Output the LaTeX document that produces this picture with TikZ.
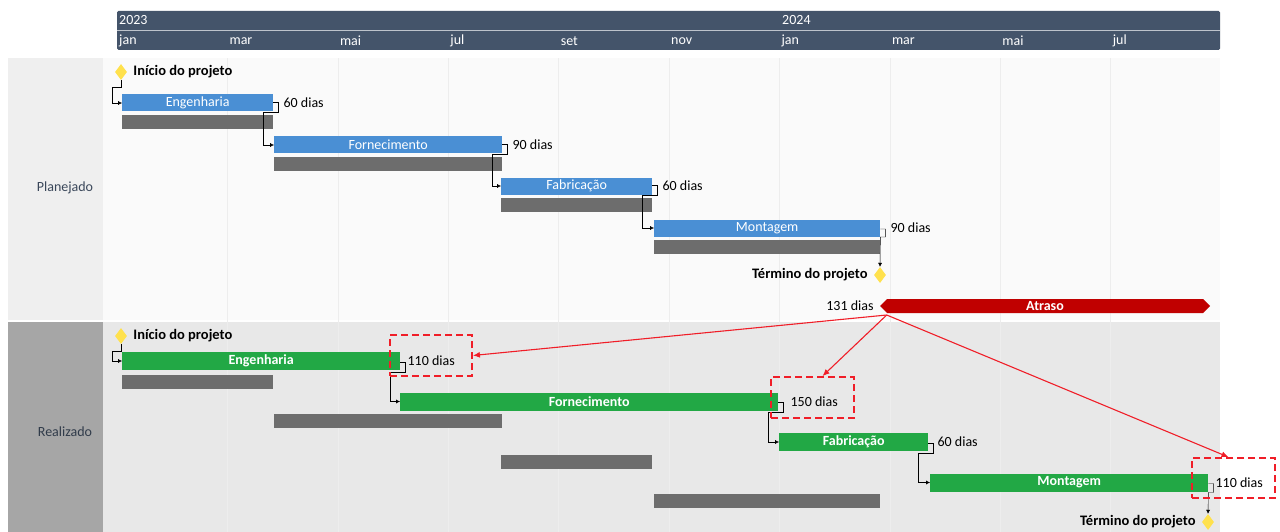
\documentclass[tikz,border=0pt]{standalone}
\usepackage{fontspec}
\setmainfont{Carlito}
\usetikzlibrary{arrows.meta,positioning,shapes.geometric,shapes.arrows}
\definecolor{Slate}{HTML}{44546A}
\definecolor{PlanBlue}{HTML}{4A8FD4}
\definecolor{RealGreen}{HTML}{22A845}
\definecolor{BaseGray}{HTML}{6D6D6D}
\definecolor{DelayRed}{HTML}{C00000}
\definecolor{Flag}{HTML}{F01E28}
\definecolor{Gold}{HTML}{FFE14D}
\definecolor{PlanBg}{HTML}{FAFAFA}
\definecolor{PlanSide}{HTML}{EFEFEF}
\definecolor{RealBg}{HTML}{E8E8E8}
\definecolor{RealSide}{HTML}{A6A6A6}

\begin{document}
\begin{tikzpicture}[x=1pt,y=-1pt,>=Latex,font=\fontsize{14}{16}\selectfont,
    bar/.style={inner sep=0pt,anchor=west,minimum height=17pt,text=white},
    plan/.style={bar,fill=PlanBlue},
    real/.style={bar,fill=RealGreen,minimum height=18pt,font=\fontsize{14}{16}\selectfont\bfseries},
    base/.style={inner sep=0pt,anchor=west,minimum height=14pt,fill=BaseGray},
    dur/.style={inner sep=0pt},
    milestone/.style={diamond,fill=Gold,inner sep=0pt,minimum width=12pt,minimum height=16pt},
    mslabel/.style={inner sep=0pt,font=\fontsize{14.5}{16}\selectfont\bfseries},
    link/.style={-{Latex[length=4pt,width=4pt]},thin,black},
    flagbox/.style={draw=Flag,line width=1.8pt,dash pattern=on 7pt off 4pt,inner sep=0pt},
    hint/.style={-{Latex[length=7pt,width=6pt]},Flag,line width=1.1pt}]
    \useasboundingbox (0,0) rectangle (1280,532);

    \fill[PlanSide] (8,58) rectangle (103,320);
    \fill[PlanBg] (103,58) rectangle (1220,320);
    \fill[RealSide] (8,322) rectangle (103,532);
    \fill[RealBg] (103,322) rectangle (1220,532);
    \foreach \i in {1,...,9}
      \draw[black!7] (117+110.4*\i,58) -- (117+110.4*\i,532);
    \node[text=Slate!85!black] (planlbl) at (65,188) {Planejado};
    \node[text=Slate!70!black] (reallbl) at (65,432) {Realizado};

    \fill[Slate,rounded corners=1.5pt] (117,11) rectangle (1220,50);
    \draw[white!65!Slate] (117,30.5) -- (1220,30.5);
    \node[anchor=west,inner sep=0pt,text=white] (y2023) at (119,20) {2023};
    \node[anchor=west,inner sep=0pt,text=white] (y2024) at (782,20) {2024};
    \foreach \m [count=\i from 0] in {jan,mar,mai,jul,set,nov,jan,mar,mai,jul}
      \node[anchor=west,inner sep=0pt,text=white] (m\i) at (119+110.4*\i,41) {\m};

    \node[milestone] (ps) at (121,72) {};
    \node[mslabel,right=6pt of ps] (pslbl) {Início do projeto};
    \node[plan,minimum width=151pt] (p1) at (122,103) {Engenharia};
    \node[base,minimum width=151pt,below=3pt of p1] (pb1) {};
    \node[dur,right=10pt of p1] (pd1) {60 dias};
    \node[plan,minimum width=228pt] (p2) at (274,145) {Fornecimento};
    \node[base,minimum width=228pt,below=3pt of p2] (pb2) {};
    \node[dur,right=10pt of p2] (pd2) {90 dias};
    \node[plan,minimum width=151pt] (p3) at (501,186) {Fabricação};
    \node[base,minimum width=151pt,below=3pt of p3] (pb3) {};
    \node[dur,right=10pt of p3] (pd3) {60 dias};
    \node[plan,minimum width=226pt] (p4) at (654,228) {Montagem};
    \node[base,minimum width=226pt,below=3pt of p4] (pb4) {};
    \node[dur,right=10pt of p4] (pd4) {90 dias};
    \node[milestone] (pe) at (880,275) {};
    \node[mslabel,left=6pt of pe] (pelbl) {Término do projeto};

    \draw[link] (ps.south) -- ++(0,7) -- ++(-9,0) |- (p1.west);
    \draw[link] ([yshift=1pt]p1.east) -- ++(5,0) -- ++(0,10) -- ++(-15,0) |- (p2.west);
    \draw[link] ([yshift=1pt]p2.east) -- ++(5,0) -- ++(0,10) -- ++(-15,0) |- (p3.west);
    \draw[link] ([yshift=1pt]p3.east) -- ++(5,0) -- ++(0,10) -- ++(-15,0) |- (p4.west);
    \draw[link] ([yshift=-1pt]p4.east) -- ++(5,0) -- ++(0,8) -- ++(-5,0) -- (pe.north);

    \node[shape=double arrow,double arrow head extend=0pt,fill=DelayRed,text=white,inner sep=0pt,
      minimum height=330pt,minimum width=14pt,font=\fontsize{14}{16}\selectfont\bfseries] (atraso) at (1045,306) {Atraso};
    \node[dur,left=6pt of atraso] (delaylbl) {131 dias};
    \coordinate (src) at ([xshift=7pt,yshift=-9pt]atraso.west);

    \node[milestone] (rs) at (121,336) {};
    \node[mslabel,right=6pt of rs] (rslbl) {Início do projeto};
    \node[real,minimum width=278pt] (r1) at (122,361) {Engenharia};
    \node[base,minimum width=151pt] (rb1) at (122,381.5) {};
    \node[dur,right=7pt of r1] (rd1) {110 dias};
    \node[real,minimum width=378pt] (r2) at (400,401.5) {Fornecimento};
    \node[base,minimum width=228pt] (rb2) at (274,421) {};
    \node[dur,right=12pt of r2] (rd2) {150 dias};
    \node[real,minimum width=149pt] (r3) at (779,442) {Fabricação};
    \node[base,minimum width=151pt] (rb3) at (501,461.5) {};
    \node[dur,right=9pt of r3] (rd3) {60 dias};
    \node[real,minimum width=278pt] (r4) at (930,482.5) {Montagem};
    \node[base,minimum width=226pt] (rb4) at (654,501) {};
    \node[dur,right=7pt of r4] (rd4) {110 dias};
    \node[milestone] (re) at (1208,522) {};
    \node[mslabel,left=6pt of re] (relbl) {Término do projeto};

    \draw[link] (rs.south) -- ++(0,7) -- ++(-9,0) |- (r1.west);
    \draw[link] ([yshift=-1pt]r1.east) -- ++(5,0) -- ++(0,10) -- ++(-15,0) |- (r2.west);
    \draw[link] ([yshift=-1pt]r2.east) -- ++(5,0) -- ++(0,10) -- ++(-15,0) |- (r3.west);
    \draw[link] ([yshift=-1pt]r3.east) -- ++(5,0) -- ++(0,10) -- ++(-15,0) |- (r4.west);
    \draw[link] ([yshift=-1pt]r4.east) -- ++(5,0) -- ++(0,9) -- ++(-5,0) -- (re.north);

    \node[flagbox,minimum width=82pt,minimum height=41pt] (f1) at (431,355.5) {};
    \node[flagbox,minimum width=83pt,minimum height=41pt] (f2) at (812.5,397.5) {};
    \node[flagbox,minimum width=83pt,minimum height=40pt] (f3) at (1233.5,478) {};
    \draw[hint] (src) -- (f1.east);
    \draw[hint] (src) -- ([xshift=10pt]f2.north);
    \draw[hint] (src) -- ([xshift=-5pt]f3.north);
  \end{tikzpicture}
\end{document}
